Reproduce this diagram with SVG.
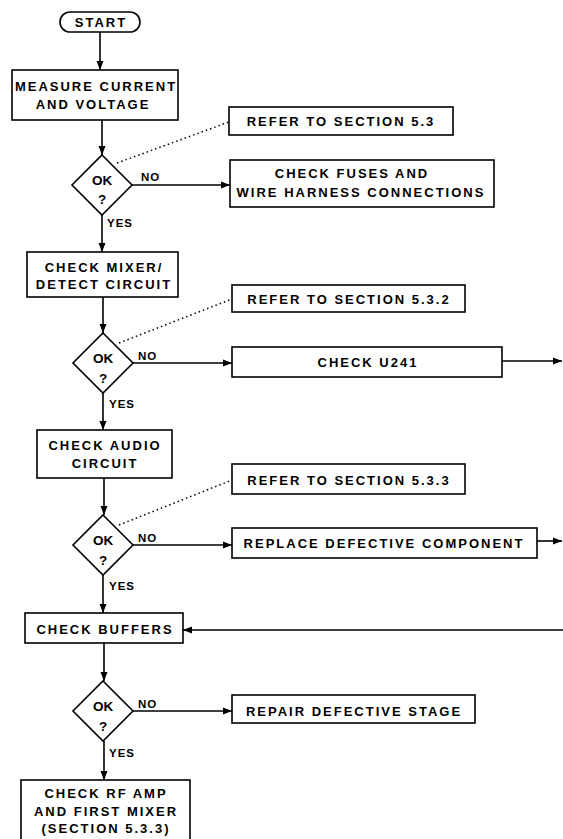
<svg xmlns="http://www.w3.org/2000/svg" width="563" height="839" viewBox="0 0 563 839">
<style>
text{font-family:"Liberation Sans",Arial,sans-serif;font-weight:bold;font-size:13px;letter-spacing:2px;fill:#000;text-anchor:middle}
.box{fill:#fff;stroke:#000;stroke-width:1.6}
.lbl{font-size:11.5px;letter-spacing:1px;text-anchor:start}
.dia text{font-size:13.5px;letter-spacing:0}
.ln{fill:none;stroke:#000;stroke-width:1.6}
.dot{fill:none;stroke:#000;stroke-width:1.5;stroke-dasharray:1.5 3}
.ar{marker-end:url(#ah)}
</style>
<defs>
<marker id="ah" markerUnits="userSpaceOnUse" markerWidth="10" markerHeight="8" refX="9" refY="4" orient="auto">
<path d="M0,0.5 L9,4 L0,7.5 Z" fill="#000"/>
</marker>
</defs>
<g id="connectors">
<line class="ln ar" x1="100" y1="32" x2="100" y2="70"/>
<line class="ln ar" x1="102" y1="120" x2="102" y2="155"/>
<line class="ln ar" x1="132" y1="185" x2="230" y2="185"/>
<line class="dot" x1="117" y1="163" x2="229" y2="122"/>
<line class="ln ar" x1="102" y1="215" x2="102" y2="252"/>
<line class="ln ar" x1="103" y1="297" x2="103" y2="333"/>
<line class="ln ar" x1="133" y1="363" x2="232" y2="363"/>
<line class="dot" x1="119" y1="343" x2="232" y2="299"/>
<line class="ln ar" x1="502" y1="361" x2="562" y2="361"/>
<line class="ln ar" x1="103" y1="393" x2="103" y2="430"/>
<line class="ln ar" x1="104" y1="478" x2="104" y2="515"/>
<line class="ln ar" x1="133" y1="545" x2="232" y2="545"/>
<line class="dot" x1="119" y1="525" x2="232" y2="480"/>
<line class="ln ar" x1="537" y1="541" x2="562" y2="541"/>
<line class="ln ar" x1="103" y1="575" x2="103" y2="613"/>
<line class="ln ar" x1="563" y1="630" x2="183" y2="630"/>
<line class="ln ar" x1="104" y1="643" x2="104" y2="681"/>
<line class="ln ar" x1="133" y1="711" x2="232" y2="711"/>
<line class="ln ar" x1="104" y1="741" x2="104" y2="780"/>
</g>
<g id="start"><rect class="box" x="60" y="12" width="80" height="20" rx="10"/><text x="101" y="27">START</text></g>
<g id="measure"><rect class="box" x="12" y="70" width="166" height="50"/><text x="96" y="91">MEASURE CURRENT</text><text x="93" y="109">AND VOLTAGE</text></g>
<g id="ok1" class="dia"><polygon class="box" points="102,155 132,185 102,215 72,185"/><text x="102" y="185">OK</text><text x="102" y="204">?</text></g>
<g id="no1"><text class="lbl" x="141" y="181">NO</text></g>
<g id="yes1"><text class="lbl" x="107" y="227">YES</text></g>
<g id="refer1"><rect class="box" x="229" y="107" width="224" height="28"/><text x="341" y="126">REFER TO SECTION 5.3</text></g>
<g id="fuses"><rect class="box" x="230" y="160" width="264" height="47"/><text x="352" y="178">CHECK FUSES AND</text><text x="361" y="197">WIRE HARNESS CONNECTIONS</text></g>
<g id="mixer"><rect class="box" x="27" y="252" width="151" height="45"/><text x="104" y="272">CHECK MIXER/</text><text x="104" y="289">DETECT CIRCUIT</text></g>
<g id="ok2" class="dia"><polygon class="box" points="103,333 133,363 103,393 73,363"/><text x="103" y="363">OK</text><text x="103" y="383">?</text></g>
<g id="no2"><text class="lbl" x="138" y="360">NO</text></g>
<g id="yes2"><text class="lbl" x="109" y="408">YES</text></g>
<g id="refer2"><rect class="box" x="232" y="285" width="233" height="27"/><text x="349" y="304">REFER TO SECTION 5.3.2</text></g>
<g id="u241"><rect class="box" x="232" y="347" width="270" height="30"/><text x="368" y="367">CHECK U241</text></g>
<g id="audio"><rect class="box" x="37" y="430" width="135" height="48"/><text x="105" y="450">CHECK AUDIO</text><text x="105" y="468">CIRCUIT</text></g>
<g id="ok3" class="dia"><polygon class="box" points="103,515 133,545 103,575 73,545"/><text x="103" y="545">OK</text><text x="103" y="565">?</text></g>
<g id="no3"><text class="lbl" x="138" y="542">NO</text></g>
<g id="yes3"><text class="lbl" x="109" y="590">YES</text></g>
<g id="refer3"><rect class="box" x="232" y="464" width="233" height="30"/><text x="349" y="485">REFER TO SECTION 5.3.3</text></g>
<g id="replace"><rect class="box" x="232" y="528" width="305" height="30"/><text x="384" y="548">REPLACE DEFECTIVE COMPONENT</text></g>
<g id="buffers"><rect class="box" x="25" y="613" width="158" height="30"/><text x="105" y="634">CHECK BUFFERS</text></g>
<g id="ok4" class="dia"><polygon class="box" points="103,681 133,711 103,741 73,711"/><text x="103" y="711">OK</text><text x="103" y="731">?</text></g>
<g id="no4"><text class="lbl" x="138" y="708">NO</text></g>
<g id="yes4"><text class="lbl" x="109" y="757">YES</text></g>
<g id="repair"><rect class="box" x="232" y="695" width="243" height="28"/><text x="354" y="716">REPAIR DEFECTIVE STAGE</text></g>
<g id="rfamp"><rect class="box" x="21" y="780" width="169" height="75"/><text x="106" y="798">CHECK RF AMP</text><text x="106" y="816">AND FIRST MIXER</text><text x="106" y="833">(SECTION 5.3.3)</text></g>
</svg>
